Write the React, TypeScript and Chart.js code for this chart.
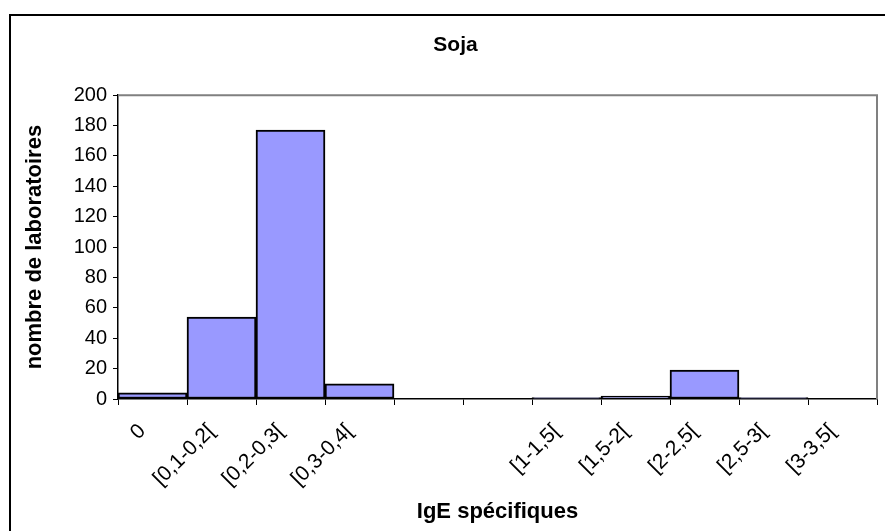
import React, { useEffect, useRef } from "react";
import { Chart, registerables } from "chart.js";

Chart.register(...registerables);

const categories = ["0", "[0,1-0,2[", "[0,2-0,3[", "[0,3-0,4[", "", "", "[1-1,5[", "[1,5-2[", "[2-2,5[", "[2,5-3[", "[3-3,5["];
const counts = [4, 54, 177, 10, 0, 0, 1, 2, 19, 1, 0];
const yTicks = [0, 20, 40, 60, 80, 100, 120, 140, 160, 180, 200];
const chartTitle = "Soja";
const xTitle = "IgE spécifiques";
const yTitle = "nombre de laboratoires";

const FONT = "'Liberation Sans', Arial, sans-serif";

const framePlugin = {
  id: "frame",
  afterLayout(chart: any) {
    const t = chart.titleBlock;
    if (t) {
      t.left = 26;
      t.right = chart.width;
      t.width = t.right - t.left;
    }
  },
  beforeDraw(chart: any) {
    const ctx = chart.ctx;
    ctx.save();
    ctx.fillStyle = "#ffffff";
    ctx.fillRect(0, 0, chart.width, chart.height);
    ctx.strokeStyle = "#000000";
    ctx.lineWidth = 2;
    ctx.beginPath();
    ctx.moveTo(10, chart.height + 2);
    ctx.lineTo(10, 15);
    ctx.lineTo(chart.width + 2, 15);
    ctx.stroke();
    ctx.restore();
  },
  afterDatasetsDraw(chart: any) {
    const { ctx, chartArea } = chart;
    ctx.save();
    ctx.strokeStyle = "#808080";
    ctx.lineWidth = 2;
    ctx.beginPath();
    ctx.moveTo(chartArea.left, chartArea.top);
    ctx.lineTo(chartArea.right, chartArea.top);
    ctx.lineTo(chartArea.right, chartArea.bottom);
    ctx.stroke();
    ctx.restore();
  },
};

export default function App() {
  const ref = useRef<HTMLCanvasElement | null>(null);
  useEffect(() => {
    if (!ref.current) return;
    const chart = new Chart(ref.current, {
      type: "bar",
      data: {
        labels: categories,
        datasets: [
          {
            data: counts,
            backgroundColor: "#9999FF",
            borderColor: "#000000",
            borderWidth: 2,
            borderSkipped: false,
            barPercentage: 1,
            categoryPercentage: 1,
          },
        ],
      },
      options: {
        animation: false,
        responsive: false,
        maintainAspectRatio: false,
        layout: { padding: { left: 0, top: 0, right: 8, bottom: 0 } },
        plugins: {
          legend: { display: false },
          tooltip: { enabled: false },
          title: {
            display: true,
            text: chartTitle,
            color: "#000",
            font: { family: FONT, size: 21, weight: "bold" },
            padding: { top: 33, bottom: 37 },
          },
        },
        scales: {
          x: {
            afterFit(scale: any) {
              scale.height = 132;
            },
            grid: {
              display: true,
              drawOnChartArea: false,
              drawTicks: true,
              tickLength: 6,
              color: "#000000",
              offset: true,
            },
            border: { display: true, color: "#000000", width: 1.5 },
            ticks: {
              color: "#000",
              font: { family: FONT, size: 21 },
              minRotation: 45,
              maxRotation: 45,
              autoSkip: false,
              padding: 14,
              labelOffset: -10,
            },
            title: {
              display: true,
              text: xTitle,
              color: "#000",
              font: { family: FONT, size: 22, weight: "bold" },
              padding: { top: 0, bottom: 6 },
            },
          },
          y: {
            min: 0,
            max: 200,
            afterFit(scale: any) {
              scale.width = 118;
            },
            afterBuildTicks(scale: any) {
              scale.ticks = yTicks.map((v) => ({ value: v }));
            },
            grid: {
              display: true,
              drawOnChartArea: false,
              drawTicks: true,
              tickLength: 5,
              color: "#000000",
            },
            border: { display: true, color: "#000000", width: 1.5 },
            ticks: {
              color: "#000",
              font: { family: FONT, size: 20 },
              padding: 6,
            },
            title: {
              display: true,
              text: yTitle,
              color: "#000",
              font: { family: FONT, size: 22, weight: "bold" },
              padding: { top: 22, bottom: 0 },
            },
          },
        },
      },
      plugins: [framePlugin],
    } as any);
    return () => chart.destroy();
  }, []);
  return (
    <div style={{ position: "absolute", left: 0, top: 0, width: 885, height: 531 }}>
      <canvas ref={ref} width={885} height={531} style={{ display: "block", width: 885, height: 531 }} />
    </div>
  );
}
